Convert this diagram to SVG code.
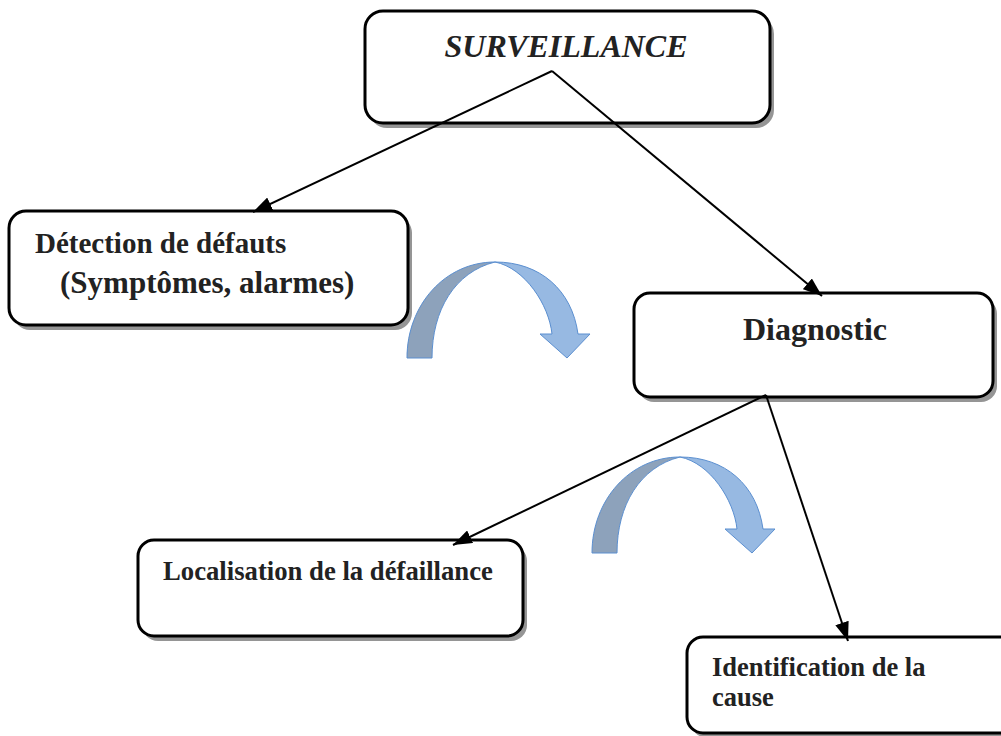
<svg xmlns="http://www.w3.org/2000/svg" width="1001" height="736" viewBox="0 0 1001 736">
  <style>
    .box { fill: #ffffff; stroke: #000000; stroke-width: 3; }
    .shadow { fill: #959595; filter: url(#soft); }
    .lbl { font-family: "Liberation Serif", "Times New Roman", serif; font-weight: bold; fill: #222222; }
    .title { font-family: "Liberation Serif", "Times New Roman", serif; font-style: italic; font-weight: bold; fill: #222222; }
    .edge { fill: none; stroke: #000000; stroke-width: 2; marker-end: url(#head); }
    .back { fill: #8da2bb; stroke: #5b8fd0; stroke-width: 1; }
    .front { fill: #97b9e2; stroke: #5b8fd0; stroke-width: 1; }
  </style>
  <defs>
    <filter id="soft" x="-5%" y="-5%" width="110%" height="110%">
      <feGaussianBlur stdDeviation="0.6"/>
    </filter>
    <marker id="head" markerUnits="userSpaceOnUse" markerWidth="20" markerHeight="14" viewBox="0 0 20 14" refX="19" refY="7" orient="auto">
      <path d="M0,0 L19,7 L0,14 Z" fill="#000000"/>
    </marker>
    <!-- curved "next step" arrow, drawn at its first position -->
    <g id="bend">
      <path class="back" d="M407,358 C407,305 445,262 495,262 C455,272 432,310 432,358 Z"/>
      <path class="front" d="M495,262 C540,262 572,290 578,334 L590,334 L567,358 L540,334 L552,334 C549,305 525,268 495,262 Z"/>
    </g>
  </defs>

  <rect width="1001" height="736" fill="#ffffff"/>

  <g id="surveillance">
    <rect class="shadow" x="369" y="16" width="405" height="112" rx="18"/>
    <rect class="box" x="365" y="11" width="405" height="112" rx="18"/>
    <text class="title" x="566" y="57" font-size="32" text-anchor="middle">SURVEILLANCE</text>
  </g>

  <g id="detection">
    <rect class="shadow" x="13" y="216" width="399" height="114" rx="17"/>
    <rect class="box" x="9" y="211" width="399" height="114" rx="17"/>
    <text class="lbl" x="35" y="253" font-size="29">Détection de défauts</text>
    <text class="lbl" x="60" y="293" font-size="31">(Symptômes, alarmes)</text>
  </g>

  <g id="diagnostic">
    <rect class="shadow" x="638" y="298" width="359" height="104" rx="16"/>
    <rect class="box" x="634" y="293" width="359" height="104" rx="16"/>
    <text class="lbl" x="815" y="340" font-size="32" text-anchor="middle">Diagnostic</text>
  </g>

  <g id="localisation">
    <rect class="shadow" x="142" y="545" width="385" height="96" rx="16"/>
    <rect class="box" x="138" y="540" width="385" height="96" rx="16"/>
    <text class="lbl" x="163" y="580" font-size="26.7">Localisation de la défaillance</text>
  </g>

  <g id="identification">
    <rect class="shadow" x="691" y="642" width="330" height="96" rx="16"/>
    <rect class="box" x="687" y="637" width="330" height="96" rx="16"/>
    <text class="lbl" x="712" y="676" font-size="26.5">Identification de la</text>
    <text class="lbl" x="712" y="706" font-size="26.5">cause</text>
  </g>

  <g id="connectors">
    <line class="edge" x1="552" y1="71" x2="253" y2="212"/>
    <line class="edge" x1="552" y1="71" x2="822" y2="296"/>
    <line class="edge" x1="766" y1="395" x2="453" y2="545"/>
    <line class="edge" x1="766" y1="395" x2="848" y2="641"/>
  </g>

  <g id="flow-arrows">
    <use href="#bend"/>
    <use href="#bend" transform="translate(185,195)"/>
  </g>
</svg>
